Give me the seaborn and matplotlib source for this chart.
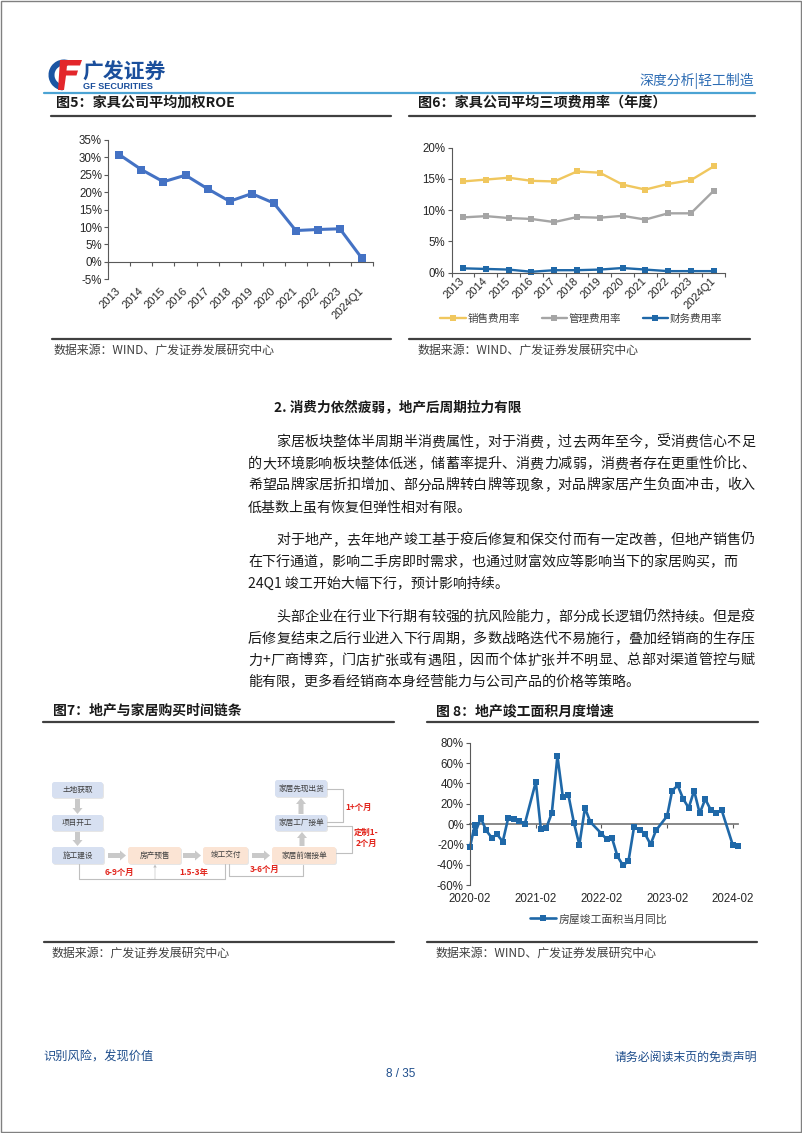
import numpy as np
import pandas as pd
import matplotlib.pyplot as plt
from matplotlib.ticker import FuncFormatter
import matplotlib.dates as mdates
from matplotlib.patches import FancyBboxPatch, FancyArrow, Rectangle, Wedge, Polygon
import seaborn as sns

sns.set_style('white')
plt.rcParams['font.family'] = ['Liberation Sans', 'Noto Sans CJK SC', 'DejaVu Sans']
plt.rcParams['axes.unicode_minus'] = False
CJK = ['Noto Sans CJK SC', 'Liberation Sans', 'DejaVu Sans']

W, H = 802, 1133

# ---------------- 数据 ----------------
# 图5 家具公司平均加权ROE (%)
years = ['2013', '2014', '2015', '2016', '2017', '2018', '2019', '2020',
         '2021', '2022', '2023', '2024Q1']
roe = [30.8, 26.5, 23.0, 24.9, 21.0, 17.4, 19.6, 16.9, 9.0, 9.3, 9.5, 1.0]

# 图6 三项费用率 (%)
sales_rate = [14.6, 14.9, 15.2, 14.7, 14.6, 16.2, 16.0, 14.1, 13.3, 14.2, 14.8, 17.0]
admin_rate = [8.85, 9.05, 8.75, 8.6, 8.1, 8.9, 8.8, 9.1, 8.5, 9.5, 9.5, 13.1]
fin_rate = [0.7, 0.6, 0.5, 0.15, 0.4, 0.4, 0.5, 0.75, 0.5, 0.25, 0.25, 0.25]
cost_names = ['销售费用率', '管理费用率', '财务费用率']

# 图8 房屋竣工面积当月同比 (%)
months = ['2020-02-01', '2020-02-27', '2020-03-01', '2020-04-01', '2020-05-01',
          '2020-06-01', '2020-07-01', '2020-08-01', '2020-09-01', '2020-10-01',
          '2020-11-01', '2020-12-01',
          '2021-02-01', '2021-03-01', '2021-04-01', '2021-05-01', '2021-06-01',
          '2021-07-01', '2021-08-01', '2021-09-01', '2021-10-01', '2021-11-01',
          '2021-12-01',
          '2022-02-01', '2022-03-01', '2022-04-01', '2022-05-01', '2022-06-01',
          '2022-07-01', '2022-08-01', '2022-09-01', '2022-10-01', '2022-11-01',
          '2022-12-01',
          '2023-02-01', '2023-03-01', '2023-04-01', '2023-05-01', '2023-06-01',
          '2023-07-01', '2023-08-01', '2023-09-01', '2023-10-01', '2023-11-01',
          '2023-12-01',
          '2024-02-01', '2024-03-01']
completion_yoy = [-22.7, -1.3, -8.6, 5.9, -6.3, -13.5, -10.2, -17.4, 6.3, 4.5, 3.0, -0.3,
                  41.5, -5.3, -3.6, 10.9, 66.8, 26.7, 28.6, 1.0, -20.4, 15.8, 2.0,
                  -9.5, -14.8, -14.1, -31.8, -40.8, -36.5, -3.0, -5.5, -9.8, -20.0, -6.3,
                  7.9, 32.8, 37.9, 24.8, 15.8, 32.9, 10.5, 24.5, 14.1, 10.9, 13.8,
                  -20.7, -21.8]
tick_months = ['2020-02-01', '2021-02-01', '2022-02-01', '2023-02-01', '2024-02-01']

# ---------------- 页面 ----------------
fig = plt.figure(figsize=(W / 100, H / 100), dpi=100)
page = fig.add_axes([0, 0, 1, 1])
page.set_xlim(0, W)
page.set_ylim(H, 0)
page.axis('off')

AXC = '#595959'
TXT = '#1a1a1a'
SRC = '#404040'


def box_axes(x0, y0, x1, y1):
    ax = fig.add_axes([x0 / W, 1 - y1 / H, (x1 - x0) / W, (y1 - y0) / H])
    ax.set_facecolor('none')
    return ax


def pct(v, _):
    return f'{v:.0f}%'


# 页框
page.add_patch(Rectangle((0.5, 0.5), W - 1.5, H - 2, fill=False, ec='#808080', lw=1))

# logo
page.add_patch(Wedge((64, 75), 15.5, 95, 290, width=6, fc='#1B55A3', ec='none'))
page.add_patch(Polygon([[60, 60], [82, 60], [80, 65.5], [67, 65.5], [66.5, 70.5], [78, 70.5],
                        [76.5, 75.5], [66, 75.5], [64, 90], [58, 90]], fc='#E3262B', ec='none'))
page.text(82, 72, '广发证券', fontsize=15, weight='bold', color='#1B4F9C', family=CJK,
          ha='left', va='center', style='italic')
page.text(83, 86.5, 'GF SECURITIES', fontsize=6.6, weight='bold', color='#1B4F9C',
          ha='left', va='center')
page.text(754, 81, '深度分析|轻工制造', fontsize=10, color='#2E6DB4', family=CJK,
          ha='right', va='center')
page.plot([43.5, 755], [92.7, 92.7], color='#4BA3D3', lw=1.6)

# 图标题
page.text(56, 103, '图5：家具公司平均加权ROE', fontsize=10.2, weight='bold', family=CJK,
          va='center', color=TXT)
page.text(418, 103, '图6：家具公司平均三项费用率（年度）', fontsize=10.2, weight='bold',
          family=CJK, va='center', color=TXT)
page.plot([51, 391], [116, 116], color=SRC, lw=1.6)
page.plot([409, 755], [116, 116], color=SRC, lw=1.6)

page.plot([52, 391], [339, 339], color=SRC, lw=1.6)
page.plot([409, 750], [339, 339], color=SRC, lw=1.6)
page.text(53, 350, '数据来源：WIND、广发证券发展研究中心', fontsize=8.6, family=CJK,
          va='center', color=SRC)
page.text(418, 350, '数据来源：WIND、广发证券发展研究中心', fontsize=8.6, family=CJK,
          va='center', color=SRC)

# ---------------- 图5 ----------------
pos = np.arange(len(years))
ax5 = box_axes(108.3, 140, 373, 279.3)
sns.lineplot(x=pos, y=roe, ax=ax5, color='#4472C4', linewidth=2.2, marker='s',
             markersize=5.5, markeredgewidth=0, clip_on=False)
ax5.set_xlim(-0.5, len(years) - 0.5)
ax5.set_ylim(-5, 35)
ax5.set_yticks(range(-5, 36, 5))
ax5.yaxis.set_major_formatter(FuncFormatter(pct))
ax5.set_xticks(pos)
ax5.set_xticklabels(years, rotation=45, ha='right', va='center', rotation_mode='anchor')
ax5.tick_params(axis='x', length=0, pad=7, labelsize=8, colors='#262626')
ax5.tick_params(axis='y', left=True, length=3, width=0.8, color=AXC, pad=1.5,
                labelsize=8.3, labelcolor='#262626')
for s in ['top', 'right', 'bottom']:
    ax5.spines[s].set_visible(False)
ax5.spines['left'].set_color(AXC)
ax5.spines['left'].set_linewidth(0.8)
sec5 = ax5.secondary_xaxis(5 / 40)
sec5.set_xticks(np.arange(-0.5, len(years)))
sec5.tick_params(axis='x', bottom=True, length=3, width=0.8, color=AXC, labelbottom=False)
sec5.spines['bottom'].set_color(AXC)
sec5.spines['bottom'].set_linewidth(0.8)
ax5.set_xlabel('')
ax5.set_ylabel('')

# ---------------- 图6 ----------------
ax6 = box_axes(451.7, 147.7, 725, 272.7)
for vals, name, col in zip([sales_rate, admin_rate, fin_rate], cost_names,
                           ['#F0C75E', '#A5A5A5', '#1F68A8']):
    sns.lineplot(x=pos, y=vals, ax=ax6, color=col, linewidth=1.7, marker='s',
                 markersize=4.6, markeredgewidth=0, label=name, clip_on=False)
ax6.set_xlim(-0.5, len(years) - 0.5)
ax6.set_ylim(0, 20)
ax6.set_yticks(range(0, 21, 5))
ax6.yaxis.set_major_formatter(FuncFormatter(pct))
ax6.set_xticks(np.arange(-0.5, len(years)))
ax6.set_xticklabels([])
ax6.set_xticks(pos, minor=True)
ax6.set_xticklabels(years, minor=True, rotation=45, ha='right', va='center',
                    rotation_mode='anchor')
ax6.tick_params(axis='x', which='major', bottom=True, length=3, width=0.8, color=AXC)
ax6.tick_params(axis='x', which='minor', bottom=True, length=0, pad=5, labelsize=8,
                labelcolor='#262626')
ax6.tick_params(axis='y', left=True, length=3, width=0.8, color=AXC, pad=1.5,
                labelsize=8.3, labelcolor='#262626')
for s in ['top', 'right']:
    ax6.spines[s].set_visible(False)
for s in ['left', 'bottom']:
    ax6.spines[s].set_color(AXC)
    ax6.spines[s].set_linewidth(0.8)
ax6.set_xlabel('')
ax6.set_ylabel('')
ax6.legend(loc='center', bbox_to_anchor=(0.475, -0.37), ncol=3, frameon=False,
           handlelength=2.4, columnspacing=2.0, handletextpad=0.2,
           prop={'family': CJK, 'size': 7.6}, labelcolor='#404040')

# ---------------- 正文 ----------------
page.text(274, 408, '2. 消费力依然疲弱，地产后周期拉力有限', fontsize=9.8, weight='bold',
          family=CJK, va='center', color=TXT)

EM = 14.08
LEFT, RIGHT = 248, 755


def body_line(s, y, indent=False, justify=True):
    x0 = LEFT + (2 * EM if indent else 0)
    if not justify:
        page.text(x0, y, s, fontsize=10.1, family=CJK, va='center', color=TXT)
        return
    widths = [EM if ord(c) > 0x2E80 else 0.55 * EM for c in s]
    gap = (RIGHT - x0 - sum(widths)) / (len(s) - 1)
    x = x0
    for c, w in zip(s, widths):
        page.text(x, y, c, fontsize=10.1, family=CJK, va='center', ha='left', color=TXT)
        x += w + gap


paras = [
    (442, ['家居板块整体半周期半消费属性，对于消费，过去两年至今，受消费信心不足',
           '的大环境影响板块整体低迷，储蓄率提升、消费力减弱，消费者存在更重性价比、',
           '希望品牌家居折扣增加、部分品牌转白牌等现象，对品牌家居产生负面冲击，收入',
           '低基数上虽有恢复但弹性相对有限。']),
    (540, ['对于地产，去年地产竣工基于疫后修复和保交付而有一定改善，但地产销售仍',
           '在下行通道，影响二手房即时需求，也通过财富效应等影响当下的家居购买，而',
           '24Q1 竣工开始大幅下行，预计影响持续。']),
    (617, ['头部企业在行业下行期有较强的抗风险能力，部分成长逻辑仍然持续。但是疫',
           '后修复结束之后行业进入下行周期，多数战略迭代不易施行，叠加经销商的生存压',
           '力+厂商博弈，门店扩张或有遇阻，因而个体扩张并不明显、总部对渠道管控与赋',
           '能有限，更多看经销商本身经营能力与公司产品的价格等策略。']),
]
for y0, lines in paras:
    for i, s in enumerate(lines):
        last = i == len(lines) - 1
        ragged = s.endswith('而')
        body_line(s, y0 + i * 21.7, indent=(i == 0), justify=not (last or ragged))

# ---------------- 图7 ----------------
page.text(53, 711, '图7：地产与家居购买时间链条', fontsize=10, weight='bold', family=CJK,
          va='center', color=TXT)
page.text(436, 711, '图 8：地产竣工面积月度增速', fontsize=10, weight='bold', family=CJK,
          va='center', color=TXT)
page.plot([43, 394], [722, 722], color=SRC, lw=1.6)
page.plot([427, 758], [722, 722], color=SRC, lw=1.6)
page.plot([43.5, 394], [942, 942], color=SRC, lw=1.6)
page.plot([427, 757], [942, 942], color=SRC, lw=1.6)
page.text(51, 953, '数据来源：广发证券发展研究中心', fontsize=8.6, family=CJK,
          va='center', color=SRC)
page.text(435, 953, '数据来源：WIND、广发证券发展研究中心', fontsize=8.6, family=CJK,
          va='center', color=SRC)

BLUE_BOX = '#D7E0F1'
PEACH_BOX = '#FBE4D4'
ARROW = '#C9C9C9'
LINK = '#BFBFBF'
RED = '#E2231A'


def flow_box(x0, y0, x1, y1, txt, fc):
    page.add_patch(FancyBboxPatch((x0 + 1, y0 + 1), x1 - x0, y1 - y0,
                                  boxstyle='round,pad=0,rounding_size=2.5',
                                  fc='#E6E6E6', ec='none'))
    page.add_patch(FancyBboxPatch((x0, y0), x1 - x0, y1 - y0,
                                  boxstyle='round,pad=0,rounding_size=2.5',
                                  fc=fc, ec='none'))
    page.text((x0 + x1) / 2, (y0 + y1) / 2, txt, ha='center', va='center',
              fontsize=5.5, color='#404040', family=CJK)


def block_arrow(x, y, dx, dy):
    page.add_patch(FancyArrow(x, y, dx, dy, width=5, head_width=10, head_length=6,
                              length_includes_head=True, fc=ARROW, ec='none'))


flow_box(52, 782, 103, 798, '土地获取', BLUE_BOX)
flow_box(52, 815, 103, 831, '项目开工', BLUE_BOX)
flow_box(52, 847, 104, 864, '施工建设', BLUE_BOX)
flow_box(128, 847, 181, 864, '房产预售', PEACH_BOX)
flow_box(203, 847, 248, 864, '竣工交付', PEACH_BOX)
flow_box(272, 847, 336, 864, '家居前端接单', PEACH_BOX)
flow_box(275, 815, 327, 831, '家居工厂接单', BLUE_BOX)
flow_box(275, 780, 327, 797, '家居先现出货', BLUE_BOX)

block_arrow(77.5, 799, 0, 15)
block_arrow(77.5, 832, 0, 14)
block_arrow(108, 855.5, 18, 0)
block_arrow(183, 855.5, 18, 0)
block_arrow(252, 855.5, 18, 0)
block_arrow(302, 846, 0, -14)
block_arrow(301, 814, 0, -16)

page.plot([79, 79, 225, 225], [864, 879, 879, 864], color=LINK, lw=0.8)
page.add_patch(FancyArrow(155, 879, 0, -14.5, width=0.6, head_width=3.5, head_length=3,
                          length_includes_head=True, fc=LINK, ec='none'))
page.plot([229, 229, 303, 303], [864, 876, 876, 864.5], color=LINK, lw=0.8)
page.plot([327, 343, 343, 327], [789, 789, 822, 822], color=LINK, lw=0.8)
page.plot([327, 352, 352, 336], [826, 826, 853, 853], color=LINK, lw=0.8)

for x, y, s in [(119, 872.5, '6-9个月'), (194, 873, '1.5-3年'), (265, 869, '3-6个月'),
                (359, 807, '1+个月'), (366, 832, '定制1-'), (366, 843, '2个月')]:
    page.text(x, y, s, ha='center', va='center', fontsize=6, weight='bold', color=RED,
              family=CJK)

# ---------------- 图8 ----------------
ax8 = box_axes(470, 742.7, 738, 885)
dates = pd.to_datetime(months)
sns.lineplot(x=dates, y=completion_yoy, ax=ax8, color='#1F68A8', linewidth=1.9,
             marker='s', markersize=4.4, markeredgewidth=0, clip_on=False,
             label='房屋竣工面积当月同比')
ax8.set_xlim(pd.Timestamp('2020-02-01'), pd.Timestamp('2024-03-01'))
ax8.set_ylim(-60, 80)
ax8.set_yticks(range(-60, 81, 20))
ax8.yaxis.set_major_formatter(FuncFormatter(pct))
xt = pd.to_datetime(tick_months)
ax8.set_xticks(xt)
ax8.xaxis.set_major_formatter(mdates.DateFormatter('%Y-%m'))
ax8.tick_params(axis='x', length=0, pad=6, labelsize=8.3, labelcolor='#262626')
ax8.tick_params(axis='y', left=True, length=3, width=0.8, color=AXC, pad=1.5,
                labelsize=8.3, labelcolor='#262626')
for s in ['top', 'right', 'bottom']:
    ax8.spines[s].set_visible(False)
ax8.spines['left'].set_color(AXC)
ax8.spines['left'].set_linewidth(0.8)
sec8 = ax8.secondary_xaxis(60 / 140)
sec8.set_xticks(mdates.date2num(xt))
sec8.tick_params(axis='x', bottom=True, length=3, width=0.8, color=AXC, labelbottom=False)
sec8.spines['bottom'].set_color('#7F7F7F')
sec8.spines['bottom'].set_linewidth(1.3)
ax8.set_xlabel('')
ax8.set_ylabel('')
ax8.legend(loc='center', bbox_to_anchor=(0.48, -0.239), frameon=False,
           handlelength=2.4, handletextpad=0.3, prop={'family': CJK, 'size': 7.8},
           labelcolor='#404040')

# ---------------- 页脚 ----------------
page.text(43.5, 1057, '识别风险，发现价值', fontsize=8.8, color='#1F4E8C', family=CJK,
          va='center')
page.text(757, 1057, '请务必阅读末页的免责声明', fontsize=8.6, color='#1F4E8C', family=CJK,
          va='center', ha='right')
page.text(401, 1074, '8 / 35', fontsize=8.5, color='#1F4E8C', ha='center', va='center')

fig.savefig('out.png', dpi=100)
